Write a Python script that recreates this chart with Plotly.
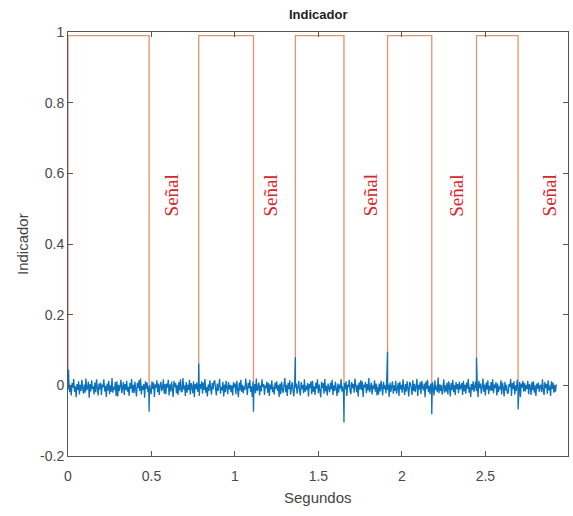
import numpy as np
import plotly.graph_objects as go

# Indicator (step signal): switching instants [s] and level held from each instant
indicator_t = [0.0, 0.0, 0.486, 0.783, 1.111, 1.362, 1.653, 1.914, 2.179, 2.447, 2.696, 2.925]
indicator_v = [0.0, 0.99, 0.0, 0.99, 0.0, 0.99, 0.0, 0.99, 0.0, 0.99, 0.0, 0.0]

# Measured signal: background noise samples (raw counts), evenly spaced over the record
noise_counts = [
    -6, 14, -12, 3, -19, 8, -2, 17, -11, 1, -23, 6, -7, 12, -17, 4, -9, 15, -3, -15,
    5, -13, 18, -8, -2, 11, -24, 6, -10, 14, -5, 1, -17, 9, -12, 16, -3, -19, 7, -6,
    9, -18, 5, -1, 16, -10, 2, -22, 7, -8, 13, -16, 3, -11, 19, -13, 0, -6, 10, -20,
    12, -21, 4, -9, 2, 15, -14, -1, 10, -18, 6, -7, 13, -11, 0, -20, 8, -4, 17, -13,
    4, -14, 11, -5, -21, 8, -3, 14, -9, 18, -17, 2, -7, 6, -24, 12, -4, 9, -12, 1,
    3, -8, -16, 12, -5, 9, -22, 5, -2, 14, -12, 7, -18, 1, 11, -9, -3, 16, -15, 6,
    -16, 7, -2, 15, -19, 5, -10, 11, -6, -22, 13, -1, 8, -14, 3, -18, 10, -8, 16, -11,
    -10, 19, -6, 2, -20, 10, -13, 4, -7, 15, -17, 8, -1, -14, 12, -23, 6, -5, 9, -11,
    2, -20, 6, -4, 12, -15, 9, -7, 17, -13, 0, -21, 5, -9, 14, -3, -17, 8, -6, 11,
    14, -4, -19, 7, -9, 3, 17, -15, 0, -8, 11, -21, 5, -12, 13, -2, -16, 10, -6, 4,
    -12, 3, -19, 10, -2, 7, -16, 13, -5, -23, 9, -8, 15, -11, 4, -14, 1, -7, 18, -10,
    -18, 8, -3, 15, -11, 1, -22, 12, -7, 6, -14, 18, -9, -4, 9, -19, 2, -10, 16, -1,
    6, -18, 2, -3, 11, -13, 8, -20, 5, -6, 14, -12, 0, -17, 9, -4, 12, -9, 3, -22,
    7, -16, 11, -6, -13, 4, 19, -12, 3, -20, 8, -5, 14, -17, 0, 10, -8, -21, 6, -2,
    7, -15, 1, 13, -8, -19, 10, -5, 4, -14, 16, -11, 2, -7, 8, -21, 6, -3, 12, -16,
    13, -11, 1, -18, 9, -4, 16, -14, 5, -7, -23, 11, -3, 8, -15, 17, -10, 2, -19, 7,
    0, -12, 9, -6, 15, -18, 3, -9, 11, -2, -20, 7, -13, 5, -4, 17, -10, 1, -16, 8,
    -5, 12, -20, 4, -1, 15, -9, -16, 10, -3, 6, -13, 18, -8, -12, 3, -21, 9, -6, 14,
    -7, 12, -22, 4, -1, 10, -14, 6, -8, 19, -12, -3, 9, -17, 2, -5, 14, -11, 7, -19,
    0, -17, 7, -10, 13, -2, -19, 11, -5, 2, -14, 16, -7, 5, -22, 9, -11, 1, 12, -15,
    3, -9, 13, -15, 0, 8, -20, 11, -6, 4, -13, 16, -2, -18, 6, -10, 12, -4, -21, 9,
    8, -3, -18, 14, -9, 6, -12, 1, 17, -20, 4, -6, 10, -16, 13, -1, -8, 7, -23, 11,
    -5, 15, -11, 2, -16, 7, -8, 10, -3, -19, 14, -7, 1, -12, 20, -14, 5, -9, 3, -17,
    -4, 16, -13, 2, -10, 9, -17, 12, -2, -21, 8, -7, 15, -12, 3, -18, 10, -5, 6, -14,
    11, -6, -2, 8, -18, 13, -10, 4, -15, 9, -4, 17, -13, 0, -22, 6, -7, 12, -11, 2,
    11, -9, 4, -22, 13, -3, 7, -15, 0, 18, -11, 5, -19, 9, -6, 14, -16, 2, -8, 10,
    -9, 16, -14, 5, -3, 10, -19, 7, -12, 1, -6, 14, -17, 9, -2, -21, 11, -8, 4, -15,
    -13, 6, -1, 17, -20, 8, -5, 12, -17, 3, -9, 15, -4, -14, 11, -22, 7, -2, 13, -10,
    8, -10, 3, -5, 13, -16, 6, -1, -18, 10, -7, 12, -13, 2, -20, 7, -4, 9, -11, 0,
    4, -12, 16, -7, -18, 10, -3, 6, -15, 14, -8, 1, -20, 12, -5, 9, -13, 3, -11, 5,
]
count_gain = 0.0013      # indicator units per count
baseline = -0.004        # DC level of the measured signal
record_end = 2.925

# Transients of the measured signal at each switching instant
spike_t = [0.003, 0.486, 0.783, 1.111, 1.362, 1.653, 1.914, 2.179, 2.447, 2.696]
spike_v = [0.045, -0.075, 0.062, -0.075, 0.08, -0.105, 0.095, -0.082, 0.078, -0.068]

# Label positions
label_text = "Señal"
label_x = [0.622, 1.216, 1.813, 2.325, 2.886]
label_y = 0.537

x_ticks = [0, 0.5, 1, 1.5, 2, 2.5]
x_ticktext = ["0", "0.5", "1", "1.5", "2", "2.5"]
y_ticks = [-0.2, 0, 0.2, 0.4, 0.6, 0.8, 1]
y_ticktext = ["-0.2", "0", "0.2", "0.4", "0.6", "0.8", "1"]

# Assemble the measured signal: noise samples plus transients, ordered in time
noise_t = np.linspace(0, record_end, len(noise_counts))
noise_v = baseline + np.array(noise_counts) * count_gain
sig_t = np.concatenate([noise_t, np.array(spike_t)])
sig_v = np.concatenate([noise_v, np.array(spike_v)])
order = np.argsort(sig_t, kind="stable")
sig_t, sig_v = sig_t[order], sig_v[order]

fig = go.Figure()
fig.add_trace(go.Scatter(
    x=indicator_t, y=indicator_v, mode="lines",
    line=dict(color="#e3946e", width=1.3, shape="hv"),
    hoverinfo="skip", showlegend=False,
))
fig.add_trace(go.Scatter(
    x=sig_t, y=sig_v, mode="lines",
    line=dict(color="#0a72bd", width=1.3),
    hoverinfo="skip", showlegend=False,
))

for lx in label_x:
    fig.add_annotation(
        x=lx, y=label_y, xref="x", yref="y", text=label_text, showarrow=False,
        textangle=-90, font=dict(family="Liberation Serif", size=19, color="#d8262b"),
    )

axis_col = "#555555"
tick_font = dict(family="Liberation Sans, Arial", size=14, color="#4a4a4a")

fig.update_xaxes(
    range=[0, 2.995], tickvals=x_ticks, ticktext=x_ticktext,
    showline=True, linecolor=axis_col, linewidth=1, mirror="ticks",
    ticks="inside", ticklen=5, tickcolor=axis_col, tickfont=tick_font,
    ticklabelstandoff=7,
    showgrid=False, zeroline=False,
)
fig.update_yaxes(
    range=[-0.2, 1], tickvals=y_ticks, ticktext=y_ticktext,
    showline=True, linecolor=axis_col, linewidth=1, mirror="ticks",
    ticks="inside", ticklen=5, tickcolor=axis_col, tickfont=tick_font,
    showgrid=False, zeroline=False,
)

fig.add_annotation(
    x=0.5, y=1, xref="paper", yref="paper", yanchor="middle", yshift=18,
    text="<b>Indicador</b>", showarrow=False,
    font=dict(family="Liberation Sans, Arial", size=13, color="#222222"),
)
fig.add_annotation(
    x=0.5, y=0, xref="paper", yref="paper", yanchor="middle", yshift=-41,
    text="Segundos", showarrow=False,
    font=dict(family="Liberation Sans, Arial", size=15, color="#444444"),
)
fig.add_annotation(
    x=0, y=0.5, xref="paper", yref="paper", xanchor="center", xshift=-46,
    text="Indicador", textangle=-90, showarrow=False,
    font=dict(family="Liberation Sans, Arial", size=15, color="#444444"),
)

fig.update_layout(
    width=573, height=516,
    margin=dict(l=68, r=5, t=32, b=60),
    paper_bgcolor="white", plot_bgcolor="white",
)

fig.write_html("out.html")
